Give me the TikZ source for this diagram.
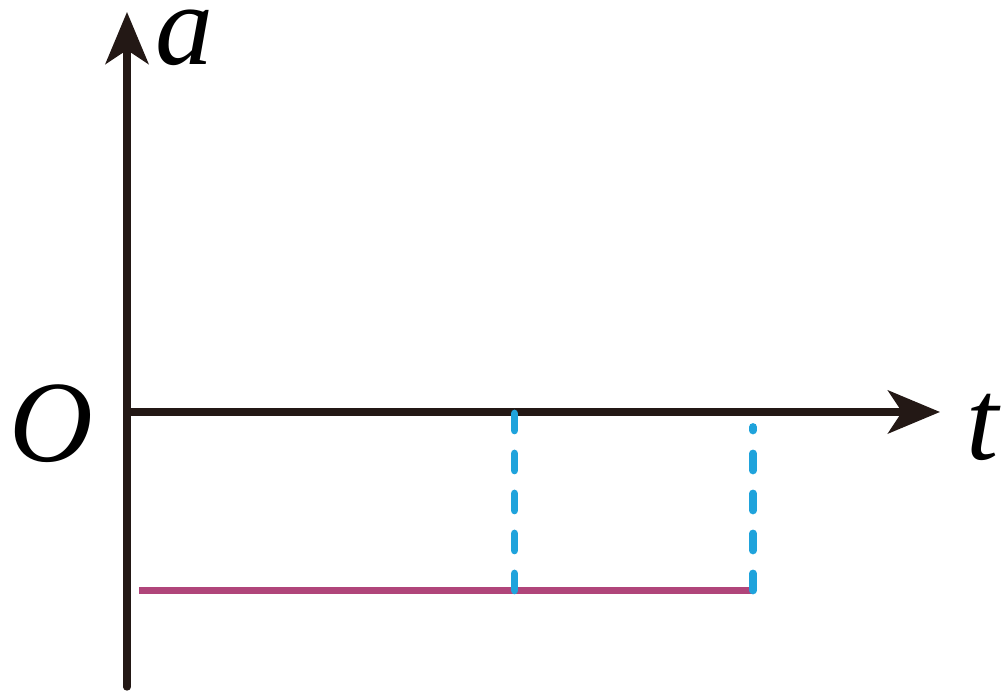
\documentclass[tikz,border=0pt]{standalone}
\usepackage{fontspec}
\setmainfont{Liberation Serif}
\usetikzlibrary{arrows.meta}
\definecolor{axisblack}{HTML}{231815}
\definecolor{aline}{HTML}{B0457A}
\definecolor{dashblue}{HTML}{1FA3DC}
\tikzset{
  axis/.style={line width=2.1pt,color=axisblack,line cap=round,
    -{Stealth[length=0.52cm,width=0.43cm,inset=0.14cm]}},
  lbl/.style={inner sep=0pt,font=\fontsize{33}{33}\selectfont\itshape,text=black},
  guide/.style={line width=2.2pt,color=dashblue,line cap=round,dash pattern=on 0.17cm off 0.23cm},
}
\begin{document}
\begin{tikzpicture}
	\useasboundingbox (-1.27,-2.85) rectangle (8.81,4.12);
		\coordinate (O) at (0,0);
		\coordinate (ybot) at (0,-2.75);
		\coordinate (ytop) at (0,4.00);
		\coordinate (xend) at (8.13,0);
		\draw[axis] (ybot)--(ytop);
		\draw[axis] (O)--(xend);
		\node[lbl,anchor=base west] (alabel) at (0.28,3.47) {a};
		\node[lbl,anchor=base] (olabel) at (-0.76,-0.50) {O};
		\node[lbl,anchor=base west] (tlabel) at (8.39,-0.48) {t};
		% acceleration line
		\coordinate (p) at (0.12,-1.785);
		\coordinate (q) at (3.875,-1.785);
		\coordinate (r) at (6.26,-1.785);
		\draw[line width=2.1pt,color=aline] (p)--(r);
		% dashed guides
		\coordinate (qtop) at (3.875,0);
		\coordinate (rtop) at (6.26,-0.15);
		\draw[guide] (q)--(qtop);
		\draw[guide] (r)--(rtop);
		%		\draw[dashed](r)--(rtop);
\end{tikzpicture}
\end{document}
